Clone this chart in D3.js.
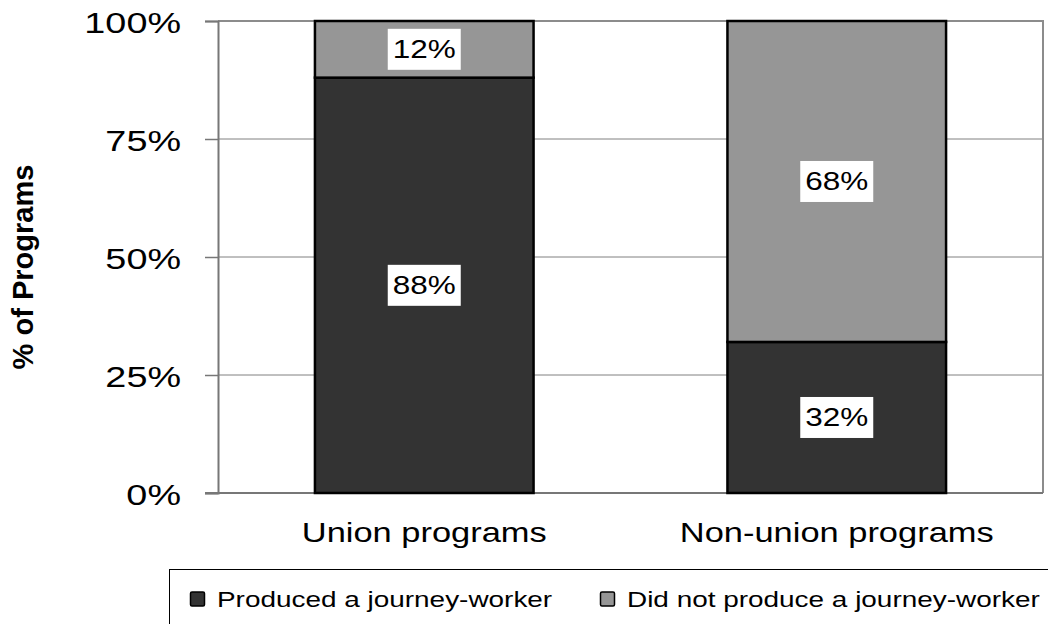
<!DOCTYPE html>
<html>
<head>
<meta charset="utf-8">
<script src="https://cdn.jsdelivr.net/npm/d3@7"></script>
<style>
  body { margin: 0; background: #fff; }
  svg { display: block; font-family: "Liberation Sans", Arial, sans-serif; }
</style>
</head>
<body>
<svg width="1048" height="624"></svg>
<script>
'use strict';

const categories = ["Union programs", "Non-union programs"];
const seriesNames = ["Produced a journey-worker", "Did not produce a journey-worker"];
const produced = [88, 32];
const notProduced = [12, 68];
const yTicks = [0, 25, 50, 75, 100];
const colors = ["#333333", "#969696"];

const svg = d3.select("svg");
const plotLeft = 218, plotRight = 1043, plotTop = 21, plotBottom = 493;
const stretch = 1.26;   // text in the original is a bit wide

const x = d3.scaleBand()
  .domain(categories)
  .range([plotLeft, plotRight])
  .paddingInner(0.47)
  .paddingOuter(0.235);

const y = d3.scaleLinear()
  .domain([0, 100])
  .range([plotBottom, plotTop]);

const rows = categories.map((c, i) => ({cat: c, a: produced[i], b: notProduced[i]}));
const stack = d3.stack().keys(["a", "b"]);
const layers = stack(rows);

// gridlines
svg.append("g")
  .selectAll("line")
  .data(yTicks.filter(t => t > 0 && t < 100))
  .join("line")
    .attr("x1", plotLeft).attr("x2", plotRight)
    .attr("y1", d => y(d)).attr("y2", d => y(d))
    .attr("stroke", "#808080")
    .attr("stroke-width", 1);

// plot frame (top + right) and axes
svg.append("path")
  .attr("d", `M${plotLeft},${plotTop}H${plotRight}V${plotBottom}`)
  .attr("fill", "none")
  .attr("stroke", "#8c8c8c")
  .attr("stroke-width", 2);

const yAxis = svg.append("g")
  .attr("transform", `translate(${plotLeft},0)`)
  .call(d3.axisLeft(y).tickValues(yTicks).tickSize(13).tickFormat(d => d + "%"));
yAxis.select(".domain").attr("stroke", "#777").attr("stroke-width", 2);
yAxis.selectAll(".tick line").attr("stroke", "#777").attr("stroke-width", 1.5);
yAxis.selectAll(".tick text")
  .attr("x", 0).attr("dy", null).attr("y", 0)
  .attr("fill", "#000")
  .attr("font-size", 30)
  .attr("font-family", "Liberation Sans, Arial, sans-serif")
  .attr("text-anchor", "end")
  .attr("transform", `translate(-37,11) scale(${stretch},1)`);

svg.append("line")
  .attr("x1", plotLeft - 13).attr("x2", plotRight)
  .attr("y1", plotBottom).attr("y2", plotBottom)
  .attr("stroke", "#777").attr("stroke-width", 2);

// bars
const bars = svg.append("g")
  .selectAll("g")
  .data(layers)
  .join("g")
    .attr("fill", (d, i) => colors[i]);

bars.selectAll("rect")
  .data(d => d)
  .join("rect")
    .attr("x", d => x(d.data.cat))
    .attr("width", x.bandwidth())
    .attr("y", d => y(d[1]))
    .attr("height", d => y(d[0]) - y(d[1]))
    .attr("stroke", "#000")
    .attr("stroke-width", 2.5);

// value labels
const labels = svg.append("g")
  .selectAll("g")
  .data(layers.flatMap(l => l.map(d => ({v: d[1] - d[0], lo: d[0], hi: d[1], cat: d.data.cat}))))
  .join("g")
    .attr("transform", d => `translate(${x(d.cat) + x.bandwidth() / 2},${y((d.lo + d.hi) / 2)})`);

labels.append("rect")
  .attr("x", -36.5).attr("y", -20.5)
  .attr("width", 73).attr("height", 41)
  .attr("fill", "#fff");

labels.append("text")
  .attr("text-anchor", "middle")
  .attr("font-size", 25)
  .attr("transform", `translate(0,9) scale(${stretch},1)`)
  .text(d => d.v + "%");

// category labels
svg.append("g")
  .selectAll("text")
  .data(categories)
  .join("text")
    .attr("text-anchor", "middle")
    .attr("font-size", 28)
    .attr("transform", d => `translate(${x(d) + x.bandwidth() / 2},542) scale(1.23,1)`)
    .text(d => d);

// y axis title
svg.append("text")
  .attr("transform", `translate(33,${(plotTop + plotBottom) / 2 + 10}) rotate(-90)`)
  .attr("text-anchor", "middle")
  .attr("font-size", 29)
  .attr("font-weight", "bold")
  .attr("textLength", 205)
  .attr("lengthAdjust", "spacingAndGlyphs")
  .text("% of Programs");

// legend
svg.append("rect")
  .attr("x", 169.5).attr("y", 569.5)
  .attr("width", 900).attr("height", 80)
  .attr("fill", "#fff")
  .attr("stroke", "#000")
  .attr("stroke-width", 1);

const legendX = [190, 600];
const legend = svg.append("g")
  .selectAll("g")
  .data(seriesNames)
  .join("g")
    .attr("transform", (d, i) => `translate(${legendX[i]},0)`);

legend.append("rect")
  .attr("x", 0.5).attr("y", 592)
  .attr("width", 14).attr("height", 14)
  .attr("rx", 1.5)
  .attr("fill", (d, i) => colors[i])
  .attr("stroke", "#000")
  .attr("stroke-width", 1.5);

legend.append("text")
  .attr("font-size", 22)
  .attr("transform", `translate(27,607) scale(1.27,1)`)
  .text(d => d);
</script>
</body>
</html>
